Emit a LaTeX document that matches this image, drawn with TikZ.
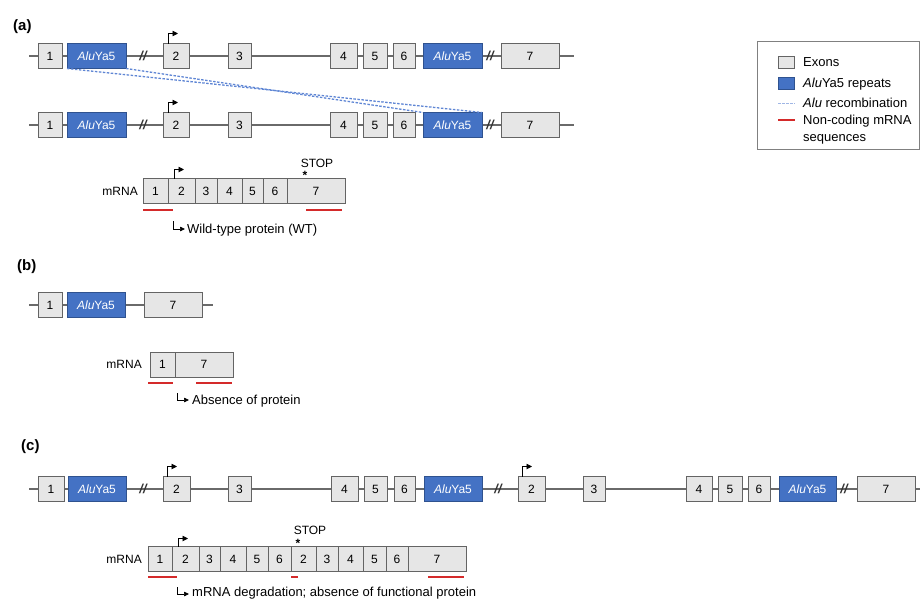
\documentclass[tikz,border=0pt]{standalone}
\usepackage{fontspec}
\setmainfont{Liberation Sans}
\usetikzlibrary{arrows.meta}
\definecolor{exfill}{HTML}{E6E6E6}
\definecolor{exdraw}{HTML}{646464}
\definecolor{alufill}{HTML}{4472C4}
\definecolor{aludraw}{HTML}{2F528F}
\definecolor{ncred}{HTML}{D42A2A}
\definecolor{recblue}{HTML}{5F86D4}
\definecolor{linegray}{HTML}{6A6A6A}
\newcommand\gbox[6]{\node[#1, minimum width={(#4-#3)*1pt}] (#2) at ({(#3+#4)/2},#5) {#6};}
\newcommand\aluname{{\itshape Alu}Ya5}
\tikzset{
 exon/.style={draw=exdraw, fill=exfill, line width=0.9pt, minimum height=25pt, inner sep=0pt, outer sep=0pt, font=\fontsize{12}{13}\selectfont},
 alu/.style={exon, draw=aludraw, fill=alufill, text=white},
 intron/.style={draw=linegray, line width=1.1pt},
 tss/.style={draw=black, line width=0.9pt, -{Triangle[length=5.5pt,width=5.5pt]}},
 hook/.style={draw=black, line width=0.7pt, -{Triangle[length=5pt,width=4.5pt]}},
 nc/.style={draw=ncred, line width=1.4pt},
 rec/.style={draw=recblue, line width=1.3pt, dash pattern=on 2.5pt off 1.5pt},
 panel/.style={font=\fontsize{15}{17}\selectfont\bfseries, inner sep=0pt, anchor=west},
 lbl/.style={font=\fontsize{12}{14}\selectfont, inner sep=0pt},
 txt/.style={font=\fontsize{13}{15}\selectfont, inner sep=0pt, anchor=base west},
 stoplbl/.style={font=\fontsize{12}{13}\selectfont, inner sep=0pt},
 brk/.style={font=\fontsize{13}{14}\selectfont\itshape\bfseries, inner sep=0pt, text=black!80}
}
\begin{document}
\begin{tikzpicture}[x=1pt,y=-1pt]
\useasboundingbox (0,0) rectangle (920,600);

% ---------------- panel (a) ----------------
\node[panel] (pa) at (13,27) {(a)};
% row a1
\coordinate (a1s) at (29,56); \coordinate (a1e) at (574,56);
\draw[intron] (a1s) -- (a1e);
\gbox{exon}{a1x1}{38}{62}{56}{1}
\gbox{alu}{a1u1}{67}{126}{56}{\aluname}
\node[brk] (a1b1) at (143,56) {//};
\gbox{exon}{a1x2}{163}{189}{56}{2}
\gbox{exon}{a1x3}{228}{251}{56}{3}
\gbox{exon}{a1x4}{330}{357}{56}{4}
\gbox{exon}{a1x5}{363}{387}{56}{5}
\gbox{exon}{a1x6}{393}{415}{56}{6}
\gbox{alu}{a1u2}{423}{482}{56}{\aluname}
\node[brk] (a1b2) at (490,56) {//};
\gbox{exon}{a1x7}{501}{559}{56}{7}
\draw[tss] ([xshift=5pt]a1x2.north west) |- ++(10,-10);
% row a2
\coordinate (a2s) at (29,125); \coordinate (a2e) at (574,125);
\draw[intron] (a2s) -- (a2e);
\gbox{exon}{a2x1}{38}{62}{125}{1}
\gbox{alu}{a2u1}{67}{126}{125}{\aluname}
\node[brk] (a2b1) at (143,125) {//};
\gbox{exon}{a2x2}{163}{189}{125}{2}
\gbox{exon}{a2x3}{228}{251}{125}{3}
\gbox{exon}{a2x4}{330}{357}{125}{4}
\gbox{exon}{a2x5}{363}{387}{125}{5}
\gbox{exon}{a2x6}{393}{415}{125}{6}
\gbox{alu}{a2u2}{423}{482}{125}{\aluname}
\node[brk] (a2b2) at (490,125) {//};
\gbox{exon}{a2x7}{501}{559}{125}{7}
\draw[tss] ([xshift=5pt]a2x2.north west) |- ++(10,-10);
% recombination
\draw[rec] (a1u1.south west) -- (a2u2.north east);
\draw[rec] (a1u1.south east) -- (a2u2.north west);
% mRNA a
\node[lbl, anchor=east] (ma) at (138,191) {mRNA};
\gbox{exon}{ma1}{143}{168}{191}{1}
\gbox{exon}{ma2}{168}{195}{191}{2}
\gbox{exon}{ma3}{195}{217}{191}{3}
\gbox{exon}{ma4}{217}{242}{191}{4}
\gbox{exon}{ma5}{242}{263}{191}{5}
\gbox{exon}{ma6}{263}{287}{191}{6}
\gbox{exon}{ma7}{287}{345}{191}{7}
\draw[tss] ([xshift=6pt]ma2.north west) |- ++(10,-9);
\node[stoplbl] (stopa) at (317,163) {STOP};
\node[stoplbl, font=\fontsize{12}{13}\selectfont\bfseries] (stara) at (305,175) {*};
\draw[nc] (143,210) -- (173,210);
\draw[nc] (306,210) -- (342,210);
\coordinate (ha) at (173,221);
\draw[hook] (ha) |- ++(12,8);
\node[txt] (wt) at (187,233.5) {Wild-type protein (WT)};

% ---------------- legend ----------------
\draw[draw=gray, line width=0.8pt] (757,41) rectangle (919,149);
\node[exon, minimum width=16pt, minimum height=12pt] (lgx) at (786,62) {};
\node[alu, minimum width=16pt, minimum height=12pt] (lgu) at (786,83) {};
\coordinate (lgr1) at (778,103); \coordinate (lgr2) at (795,103);
\draw[rec, draw=recblue!60, line width=1pt] (lgr1) -- (lgr2);
\coordinate (lgn1) at (778,120); \coordinate (lgn2) at (795,120);
\draw[nc] (lgn1) -- (lgn2);
\node[txt] (tl1) at (803,66.5) {Exons};
\node[txt] (tl2) at (803,87.5) {\aluname{} repeats};
\node[txt] (tl3) at (803,107.5) {{\itshape Alu} recombination};
\node[txt] (tl4) at (803,124.5) {Non-coding mRNA};
\node[txt] (tl5) at (803,141.5) {sequences};

% ---------------- panel (b) ----------------
\node[panel] (pb) at (17,267) {(b)};
\coordinate (bs) at (29,305); \coordinate (be) at (213,305);
\draw[intron] (bs) -- (be);
\gbox{exon}{bx1}{38}{62}{305}{1}
\gbox{alu}{bu1}{67}{125}{305}{\aluname}
\gbox{exon}{bx7}{144}{202}{305}{7}
\node[lbl, anchor=east] (mb) at (142,364.5) {mRNA};
\gbox{exon}{mb1}{150}{175}{364.5}{1}
\gbox{exon}{mb7}{175}{233}{364.5}{7}
\draw[nc] (148,383) -- (173,383);
\draw[nc] (196,383) -- (232,383);
\coordinate (hb) at (177,393);
\draw[hook] (hb) |- ++(12,7);
\node[txt] (abs) at (192,404.5) {Absence of protein};

% ---------------- panel (c) ----------------
\node[panel] (pc) at (21,447) {(c)};
\coordinate (cs) at (29,489); \coordinate (ce) at (920,489);
\draw[intron] (cs) -- (ce);
\gbox{exon}{cx1}{38}{64}{489}{1}
\gbox{alu}{cu1}{68}{126}{489}{\aluname}
\node[brk] (cb1) at (143,489) {//};
\gbox{exon}{cx2}{163}{190}{489}{2}
\gbox{exon}{cx3}{228}{251}{489}{3}
\gbox{exon}{cx4}{331}{358}{489}{4}
\gbox{exon}{cx5}{364}{387}{489}{5}
\gbox{exon}{cx6}{394}{415}{489}{6}
\gbox{alu}{cu2}{424}{482}{489}{\aluname}
\node[brk] (cb2) at (498,489) {//};
\gbox{exon}{cy2}{518}{545}{489}{2}
\gbox{exon}{cy3}{583}{605}{489}{3}
\gbox{exon}{cy4}{686}{712}{489}{4}
\gbox{exon}{cy5}{718}{742}{489}{5}
\gbox{exon}{cy6}{748}{770}{489}{6}
\gbox{alu}{cu3}{779}{836}{489}{\aluname}
\node[brk] (cb3) at (844,489) {//};
\gbox{exon}{cy7}{857}{915}{489}{7}
\draw[tss] ([xshift=4pt]cx2.north west) |- ++(10,-10);
\draw[tss] ([xshift=4pt]cy2.north west) |- ++(10,-10);
% mRNA c
\node[lbl, anchor=east] (mc) at (142,559) {mRNA};
\gbox{exon}{mc1}{148}{172}{559}{1}
\gbox{exon}{mc2}{172}{199}{559}{2}
\gbox{exon}{mc3}{199}{220}{559}{3}
\gbox{exon}{mc4}{220}{246}{559}{4}
\gbox{exon}{mc5}{246}{268}{559}{5}
\gbox{exon}{mc6}{268}{291}{559}{6}
\gbox{exon}{mc7}{291}{316}{559}{2}
\gbox{exon}{mc8}{316}{338}{559}{3}
\gbox{exon}{mc9}{338}{363}{559}{4}
\gbox{exon}{mc10}{363}{386}{559}{5}
\gbox{exon}{mc11}{386}{408}{559}{6}
\gbox{exon}{mc12}{408}{466}{559}{7}
\draw[tss] ([xshift=6pt]mc2.north west) |- ++(10,-8);
\node[stoplbl] (stopc) at (310,530) {STOP};
\node[stoplbl, font=\fontsize{12}{13}\selectfont\bfseries] (starc) at (298,543) {*};
\draw[nc] (148,577) -- (177,577);
\draw[nc] (291,577) -- (298,577);
\draw[nc] (428,577) -- (464,577);
\coordinate (hc) at (177,587);
\draw[hook] (hc) |- ++(12,7);
\node[txt] (deg) at (192,596.5) {mRNA degradation; absence of functional protein};
\end{tikzpicture}
\end{document}
